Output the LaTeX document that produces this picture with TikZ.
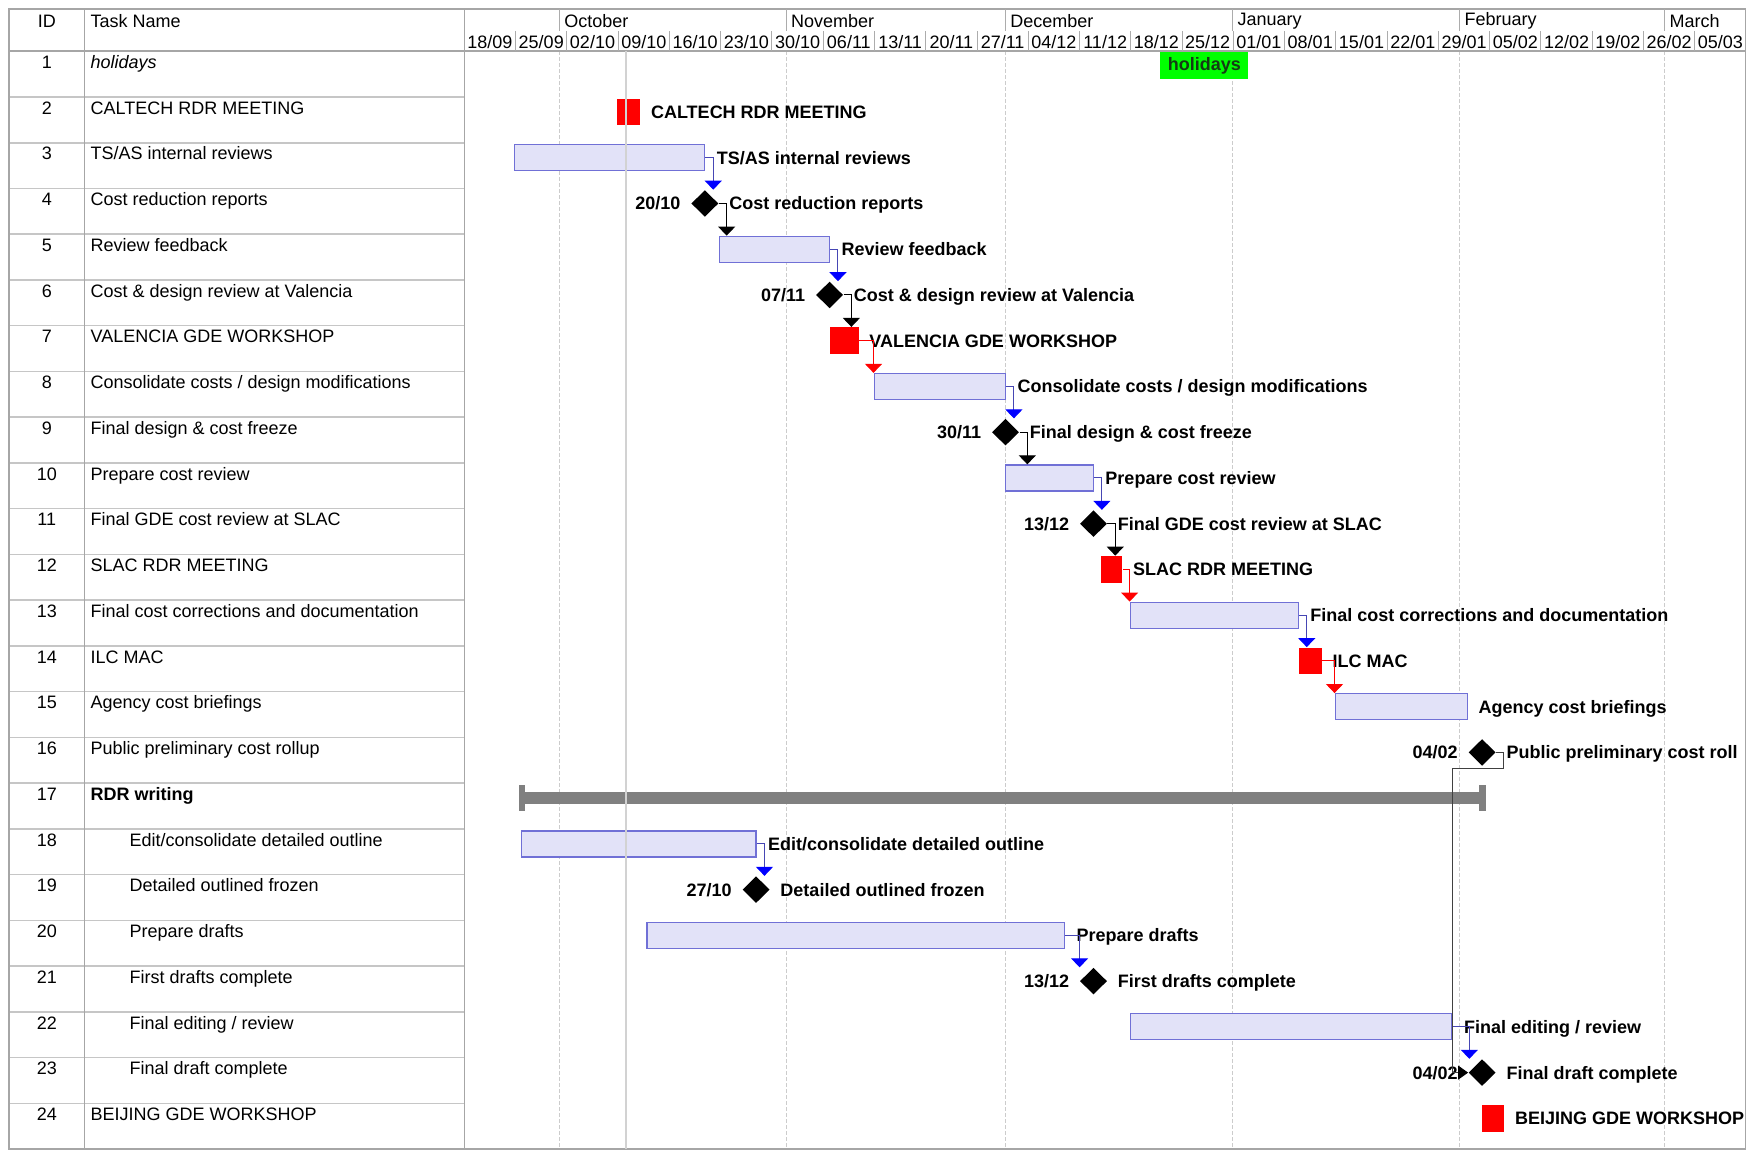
\documentclass[tikz,border=0pt]{standalone}
\usepackage{fontspec}
\setmainfont{Liberation Sans}
\usepackage{tikz}
\usetikzlibrary{positioning,shapes.geometric,arrows.meta}

\definecolor{barfill}{RGB}{226,226,248}
\definecolor{barline}{RGB}{112,112,214}
\definecolor{linkblue}{RGB}{70,70,180}
\definecolor{summarygray}{RGB}{128,128,128}
\definecolor{holidaytext}{RGB}{20,60,20}

\newcommand{\pxu}{0.5567pt}
\newcommand{\ganttbar}[4]{\node[taskbar, minimum width={(#3-#2)*\pxu}] (#1) at ({(#2+#3)/2},#4) {};}
\newcommand{\meetbox}[4]{\node[meeting, minimum width={(#3-#2)*\pxu}] (#1) at ({(#2+#3)/2},#4) {};}

\tikzset{
  frame/.style={draw=gray!70, line width=0.8pt},
  rowline/.style={draw=gray!45, line width=0.8pt},
  weekline/.style={draw=gray!65, line width=0.5pt},
  monthline/.style={draw=gray!40, dash pattern=on 2pt off 1pt, line width=0.5pt},
  todayline/.style={draw=gray!35, line width=1pt},
  taskbar/.style={draw=barline, fill=barfill, line width=0.6pt, minimum height=13pt, inner sep=0pt},
  meeting/.style={fill=red, minimum height=13.4pt, inner sep=0pt},
  holiday/.style={fill=green, minimum height=13.4pt, inner sep=0pt, text=holidaytext, font=\fontsize{9}{10}\selectfont\bfseries},
  milestone/.style={diamond, fill=black, minimum width=13.6pt, minimum height=13.4pt, inner sep=0pt},
  summarybar/.style={fill=summarygray, minimum height=6.1pt, inner sep=0pt},
  tasklabel/.style={font=\fontsize{9}{10}\selectfont\bfseries, inner sep=0pt, text height=6.5pt, text depth=0pt},
  datelabel/.style={tasklabel},
  cell/.style={inner sep=0pt},
  bluelink/.style={draw=linkblue, line width=0.5pt, -{Triangle[width=8.5pt,length=4.5pt,color=blue]}},
  blacklink/.style={draw=black, line width=0.5pt, -{Triangle[width=8.5pt,length=4.5pt]}},
  redlink/.style={draw=red, line width=0.5pt, -{Triangle[width=8.5pt,length=4.5pt]}},
  greylink/.style={draw=black!75, line width=0.5pt, -{Triangle[width=7pt,length=5pt,color=black]}}
}

\begin{document}
\begin{tikzpicture}[x=0.5567pt,y=-0.5567pt,font=\fontsize{9}{10}\selectfont]
\useasboundingbox (0,0) rectangle (1568,1034);

%%Month lines and rows
\foreach \x in {502.5,706,903,1107,1311,1495}
  \draw[monthline] (\x,46) -- (\x,1032);
\foreach \r in {1,...,23}
  \draw[rowline] (8,{46+\r*41.08}) -- (417,{46+\r*41.08});

%%Frame
\draw[frame] (8,8) rectangle (1568,1032);
\draw[frame] (76,8) -- (76,1032);
\draw[frame] (417,8) -- (417,1032);
\draw[frame] (8,46) -- (1568,46);

%%Header
\node[cell] (hid) at (42,19) {ID};
\node[cell, anchor=west] (hname) at (81,19) {Task Name};
\foreach \x/\m in {502.5/October,706/November,903/December,1107/January,1311/February,1495/March}{
  \draw[weekline] (\x,8) -- (\x,28);
  \node[cell, anchor=west] (\m) at (\x+4,19) {\m};
}
\foreach \w [count=\k from 0] in {18/09,25/09,02/10,09/10,16/10,23/10,30/10,06/11,13/11,20/11,27/11,04/12,11/12,18/12,25/12,01/01,08/01,15/01,22/01,29/01,05/02,12/02,19/02,26/02,05/03}{
  \ifnum\k>0 \draw[weekline] ({417+\k*46.04},28) -- ({417+\k*46.04},46); \fi
  \node[cell] (wk\k) at ({417+(\k+0.5)*46.04},37.5) {\w};
}

%%Table
\foreach \i/\dx/\txt in {1/81/\textit{holidays},
  2/81/CALTECH RDR MEETING,
  3/81/{TS/AS internal reviews},
  4/81/Cost reduction reports,
  5/81/Review feedback,
  6/81/Cost \& design review at Valencia,
  7/81/VALENCIA GDE WORKSHOP,
  8/81/{Consolidate costs / design modifications},
  9/81/Final design \& cost freeze,
  10/81/Prepare cost review,
  11/81/Final GDE cost review at SLAC,
  12/81/SLAC RDR MEETING,
  13/81/Final cost corrections and documentation,
  14/81/ILC MAC,
  15/81/Agency cost briefings,
  16/81/Public preliminary cost rollup,
  17/81/\textbf{RDR writing},
  18/116/{Edit/consolidate detailed outline},
  19/116/Detailed outlined frozen,
  20/116/Prepare drafts,
  21/116/First drafts complete,
  22/116/{Final editing / review},
  23/116/Final draft complete,
  24/81/BEIJING GDE WORKSHOP}{
  \node[cell, anchor=base] (id\i) at (42,{46+(\i-1)*41.08+15.5}) {\i};
  \node[cell, anchor=base west] (tn\i) at (\dx,{46+(\i-1)*41.08+15.5}) {\txt};
}

%%Bars
\node[holiday, minimum width={79*\pxu}] (h1) at (1081.5,59) {holidays};
\meetbox{w2}{554}{575}{100.58}
\ganttbar{b3}{462}{633}{141.66}
\node[milestone] (m4) at (633,182.74) {};
\ganttbar{b5}{646}{745}{223.82}
\node[milestone] (m6) at (745,264.9) {};
\meetbox{w7}{745}{771}{305.98}
\ganttbar{b8}{785}{903}{347.06}
\node[milestone] (m9) at (903,388.14) {};
\ganttbar{b10}{903}{982}{429.22}
\node[milestone] (m11) at (982,470.3) {};
\meetbox{w12}{989}{1008}{511.38}
\ganttbar{b13}{1015}{1166}{552.46}
\meetbox{w14}{1167}{1187}{593.54}
\ganttbar{b15}{1199}{1318}{634.62}
\node[milestone] (m16) at (1331,675.7) {};
\node[summarybar, minimum width={868*\pxu}] (s17) at (900,716.78) {};
\fill[summarygray] (s17.west) ++(0,-11.5) rectangle ++(6,23);
\fill[summarygray] (s17.east) ++(0,-11.5) rectangle ++(-6,23);
\ganttbar{b18}{468}{679}{757.86}
\node[milestone] (m19) at (679,798.94) {};
\ganttbar{b20}{581}{956}{840.02}
\node[milestone] (m21) at (982,881.1) {};
\ganttbar{b22}{1015}{1304}{922.18}
\node[milestone] (m23) at (1331,963.26) {};
\meetbox{w24}{1331}{1351}{1004.34}

%%Labels
\node[tasklabel, right=5pt of w2] (l2) {CALTECH RDR MEETING};
\node[tasklabel, right=5.5pt of b3] (l3) {TS/AS internal reviews};
\node[tasklabel, right=5pt of m4] (l4) {Cost reduction reports};
\node[datelabel, left=5pt of m4] (d4) {20/10};
\node[tasklabel, right=5.5pt of b5] (l5) {Review feedback};
\node[tasklabel, right=5pt of m6] (l6) {Cost \& design review at Valencia};
\node[datelabel, left=5pt of m6] (d6) {07/11};
\node[tasklabel, right=5pt of w7] (l7) {VALENCIA GDE WORKSHOP};
\node[tasklabel, right=5.5pt of b8] (l8) {Consolidate costs / design modifications};
\node[tasklabel, right=5pt of m9] (l9) {Final design \& cost freeze};
\node[datelabel, left=5pt of m9] (d9) {30/11};
\node[tasklabel, right=5.5pt of b10] (l10) {Prepare cost review};
\node[tasklabel, right=5pt of m11] (l11) {Final GDE cost review at SLAC};
\node[datelabel, left=5pt of m11] (d11) {13/12};
\node[tasklabel, right=5pt of w12] (l12) {SLAC RDR MEETING};
\node[tasklabel, right=5.5pt of b13] (l13) {Final cost corrections and documentation};
\node[tasklabel, right=5pt of w14] (l14) {ILC MAC};
\node[tasklabel, right=5pt of b15] (l15) {Agency cost briefings};
\node[tasklabel, right=5pt of m16] (l16) {Public preliminary cost roll};
\node[datelabel, left=5pt of m16] (d16) {04/02};
\node[tasklabel, right=5.5pt of b18] (l18) {Edit/consolidate detailed outline};
\node[tasklabel, right=5pt of m19] (l19) {Detailed outlined frozen};
\node[datelabel, left=5pt of m19] (d19) {27/10};
\node[tasklabel, right=5.5pt of b20] (l20) {Prepare drafts};
\node[tasklabel, right=5pt of m21] (l21) {First drafts complete};
\node[datelabel, left=5pt of m21] (d21) {13/12};
\node[tasklabel, right=5.5pt of b22] (l22) {Final editing / review};
\node[tasklabel, right=5pt of m23] (l23) {Final draft complete};
\node[datelabel, left=5pt of m23] (d23) {04/02};
\node[tasklabel, right=5pt of w24] (l24) {BEIJING GDE WORKSHOP};

%%Links
\draw[bluelink] (b3.east) -- ++(7,0) coordinate (k3) -- (k3 |- m4.north);
\draw[blacklink] (m4.east) -- ++(7,0) coordinate (k4) -- (k4 |- b5.north);
\draw[bluelink] (b5.east) -- ++(7,0) coordinate (k5) -- (k5 |- m6.north);
\draw[blacklink] (m6.east) -- ++(7,0) coordinate (k6) -- (k6 |- w7.north);
\draw[redlink] (w7.east) -| (b8.north west);
\draw[bluelink] (b8.east) -- ++(7,0) coordinate (k8) -- (k8 |- m9.north);
\draw[blacklink] (m9.east) -- ++(7,0) coordinate (k9) -- (k9 |- b10.north);
\draw[bluelink] (b10.east) -- ++(7,0) coordinate (k10) -- (k10 |- m11.north);
\draw[blacklink] (m11.east) -- ++(7,0) coordinate (k11) -- (k11 |- w12.north);
\draw[redlink] (w12.east) -| (b13.north west);
\draw[bluelink] (b13.east) -- ++(7,0) coordinate (k13) -- (k13 |- w14.north);
\draw[redlink] (w14.east) -| (b15.north west);
\draw[greylink] (m16.east) -- ++(7,0) -- ++(0,14) coordinate (k16) -- (b22.east |- k16) -- (b22.east |- m23.west) -- (m23.west);
\draw[bluelink] (b18.east) -- ++(7,0) coordinate (k18) -- (k18 |- m19.north);
\draw[bluelink] (b20.east) -- ++(13,0) coordinate (k20) -- (k20 |- m21.north);
\draw[bluelink] (b22.east) -- ++(15,0) coordinate (k22) -- (k22 |- m23.north);

%%Today
\draw[todayline] (562,46) -- (562,1032);

\end{tikzpicture}
\end{document}
